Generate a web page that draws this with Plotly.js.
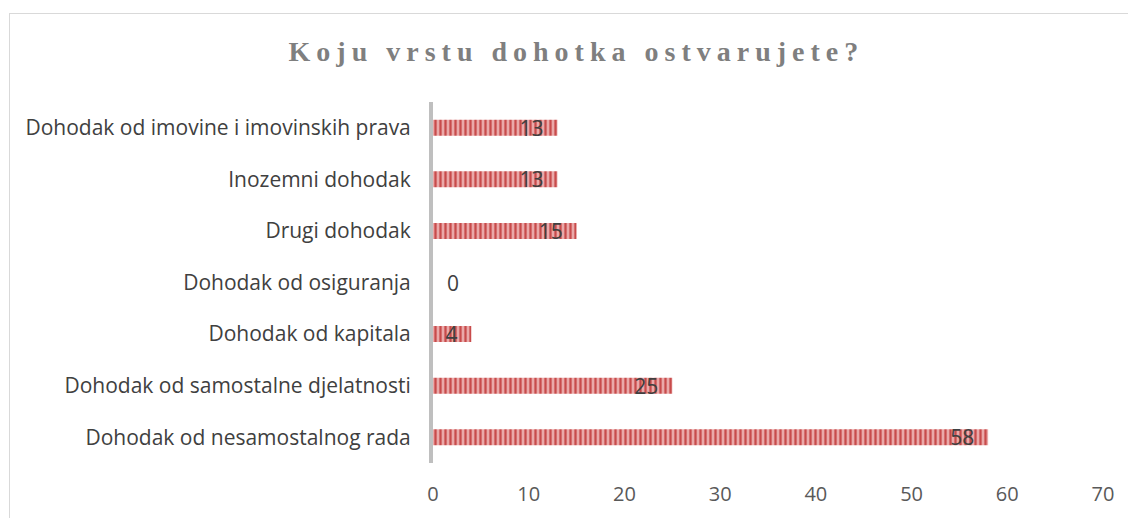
<!DOCTYPE html>
<html><head><meta charset="utf-8">
<script src="https://cdn.plot.ly/plotly-3.0.1.min.js"></script>
<style>
html,body{margin:0;padding:0;background:#fff;overflow:hidden;}
#frame{position:absolute;left:9px;top:13px;width:1140px;height:520px;border:1px solid #d9d9d9;box-sizing:border-box;}
#chart{position:absolute;left:0;top:0;width:1128px;height:518px;}
</style></head>
<body>
<div id="frame"></div>
<div id="chart"></div>
<script>
const categories = [
  "Dohodak od nesamostalnog rada",
  "Dohodak od samostalne djelatnosti",
  "Dohodak od kapitala",
  "Dohodak od osiguranja",
  "Drugi dohodak",
  "Inozemni dohodak",
  "Dohodak od imovine i imovinskih prava"
];
const values = [58, 25, 4, 0, 15, 13, 13];
const xTicks = [0, 10, 20, 30, 40, 50, 60, 70];
const titleText = "Koju vrstu dohotka ostvarujete?";

const textPos = values.map(v => v > 0 ? "inside" : "outside");
const labels = values.map(v => v > 0 ? v + "\u00a0\u00a0" : "\u00a0\u00a0" + v);
const lblFont = {family: "Open Sans, Noto Sans, sans-serif", size: 21, color: "#404040"};

const trace = {
  type: "bar",
  orientation: "h",
  y: categories,
  x: values,
  text: labels,
  textposition: textPos,
  textangle: 0,
  insidetextanchor: "end",
  constraintext: "none",
  cliponaxis: false,
  textfont: lblFont,
  insidetextfont: lblFont,
  outsidetextfont: lblFont,
  marker: {
    color: "#e9a6a6",
    line: {width: 0},
    pattern: {shape: "|", fgcolor: "#c84b4b", bgcolor: "#eaa9a9", size: 5, solidity: 0.45}
  },
  hoverinfo: "none"
};

const layout = {
  width: 1128, height: 518,
  margin: {l: 433, r: 25, t: 102, b: 55, pad: 0},
  paper_bgcolor: "rgba(0,0,0,0)",
  plot_bgcolor: "rgba(0,0,0,0)",
  bargap: 0.69,
  showlegend: false,
  title: {
    text: "<b>" + titleText + "</b>",
    x: 0.511, xanchor: "center", xref: "container",
    y: 0.902, yanchor: "middle",
    font: {family: "Liberation Serif, Times New Roman, serif", size: 28, color: "#7f7f7f"}
  },
  xaxis: {
    range: [0, 70],
    tickvals: xTicks,
    ticktext: xTicks.map(String),
    showgrid: false, zeroline: false, showline: false,
    ticks: "", ticklen: 0, ticklabelstandoff: 17,
    tickfont: {family: "Open Sans, Noto Sans, sans-serif", size: 20, color: "#595959"},
    fixedrange: true
  },
  yaxis: {
    type: "category",
    categoryorder: "array",
    categoryarray: categories,
    showgrid: false, zeroline: false,
    showline: true, linecolor: "#bfbfbf", linewidth: 4,
    ticks: "", ticklabelstandoff: 14,
    tickfont: {family: "Open Sans, Noto Sans, sans-serif", size: 21, color: "#404040"},
    fixedrange: true
  }
};

Plotly.newPlot("chart", [trace], layout, {displayModeBar: false, staticPlot: true}).then(() => {
  const t = document.querySelector(".gtitle");
  if (t) t.style.letterSpacing = "6px";
});
</script>
</body></html>
